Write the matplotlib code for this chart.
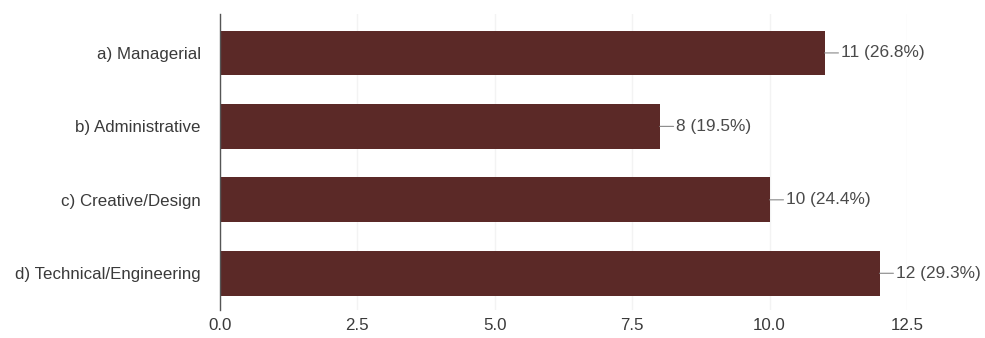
import matplotlib.pyplot as plt

plt.rcParams['font.family'] = ['Liberation Sans', 'DejaVu Sans']

categories = ["a) Managerial", "b) Administrative", "c) Creative/Design", "d) Technical/Engineering"]
counts = [11, 8, 10, 12]
percents = [26.8, 19.5, 24.4, 29.3]

fig = plt.figure(figsize=(9.85, 3.38), dpi=100)
ax = fig.add_axes([220 / 985, 28 / 338, 687 / 985, 296 / 338])

ypos = list(range(len(categories)))
ax.barh(ypos, counts, height=0.61, color="#5b2927", zorder=2)
ax.set_ylim(len(categories) - 0.5, -0.53)
ax.set_xlim(0, 12.5)
ax.set_yticks(ypos)
ax.set_yticklabels(categories)
ax.set_xticks([0, 2.5, 5.0, 7.5, 10.0, 12.5])
ax.set_xticklabels(["0.0", "2.5", "5.0", "7.5", "10.0", "12.5"])

ax.grid(axis="x", color="#f3f3f3", linewidth=1, zorder=0)
for side in ["top", "right", "bottom"]:
    ax.spines[side].set_visible(False)
ax.spines["left"].set_color("#555555")
ax.spines["left"].set_linewidth(1)
ax.tick_params(axis="both", length=0, labelsize=12.2, labelcolor="#3a3a3a")
ax.tick_params(axis="y", pad=14)
ax.tick_params(axis="x", pad=6)

# leader line + count/percent label after each bar
for y, c, p in zip(ypos, counts, percents):
    ax.annotate(f"{c} ({p}%)", xy=(c, y), xytext=(12, 0), textcoords="offset points",
                va="center", ha="left", fontsize=12.4, color="#4a4a4a",
                arrowprops=dict(arrowstyle="-", color="#888888", lw=0.8,
                                shrinkA=0, shrinkB=0),
                annotation_clip=False)

fig.savefig("out.png", dpi=100)
